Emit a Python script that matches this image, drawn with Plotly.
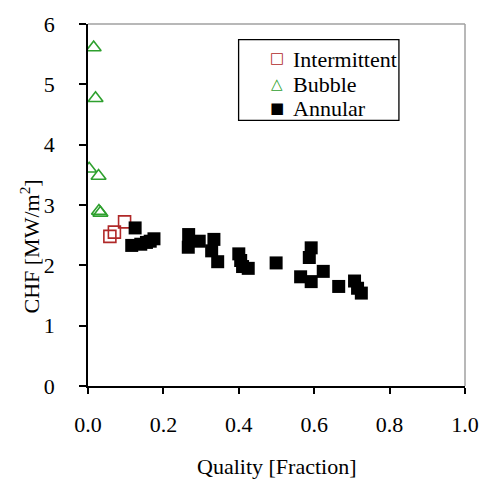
import plotly.graph_objects as go

# Data
inter_x = [0.058, 0.070, 0.097]
inter_y = [2.48, 2.55, 2.72]

bubble_x = [0.015, 0.020, 0.003, 0.028, 0.029, 0.033]
bubble_y = [5.61, 4.77, 3.60, 3.48, 2.90, 2.87]

annular_x = [0.125, 0.116, 0.140, 0.155, 0.175, 0.165,
             0.267, 0.266, 0.295, 0.334, 0.328, 0.344,
             0.400, 0.405, 0.410, 0.425,
             0.499, 0.592, 0.587, 0.564, 0.592, 0.624, 0.665,
             0.707, 0.715, 0.725]
annular_y = [2.62, 2.33, 2.35, 2.38, 2.44, 2.40,
             2.51, 2.30, 2.40, 2.43, 2.24, 2.06,
             2.19, 2.08, 1.98, 1.95,
             2.04, 2.29, 2.13, 1.81, 1.73, 1.90, 1.65,
             1.74, 1.62, 1.54]

x_ticks = [0.0, 0.2, 0.4, 0.6, 0.8, 1.0]
x_ticklabels = ["0.0", "0.2", "0.4", "0.6", "0.8", "1.0"]
y_ticks = [0, 1, 2, 3, 4, 5, 6]

series_names = ["Intermittent", "Bubble", "Annular"]
series_colors = ["#b02828", "#2ea02e", "black"]
legend_glyphs = ["\u25A1", "\u25B3", "\u25A0"]

FONT = "Liberation Serif"

# plot area in pixels (for converting legend placement to paper coords)
L, T, W, H = 88, 14, 388, 372
def px(xp):
    return (xp - L) / W
def py(yp):
    return (T + H - yp) / H

fig = go.Figure()
fig.add_trace(go.Scatter(
    x=inter_x, y=inter_y, mode="markers", name=series_names[0], showlegend=False,
    marker=dict(symbol="square-open", size=12, color=series_colors[0],
                line=dict(width=1.6, color=series_colors[0]))))
fig.add_trace(go.Scatter(
    x=bubble_x, y=bubble_y, mode="markers", name=series_names[1], showlegend=False,
    marker=dict(symbol="triangle-up-open", size=13, color=series_colors[1],
                line=dict(width=1.6, color=series_colors[1]))))
fig.add_trace(go.Scatter(
    x=annular_x, y=annular_y, mode="markers", name=series_names[2], showlegend=False,
    marker=dict(symbol="square", size=13, color=series_colors[2], line=dict(width=0))))

annotations = [
    dict(text="Quality [Fraction]", xref="paper", yref="paper", x=0.5, y=py(469),
         xanchor="center", yanchor="middle", showarrow=False,
         font=dict(family=FONT, size=22)),
    dict(text="CHF [MW/m<sup>2</sup>]", xref="paper", yref="paper", x=px(28), y=py(243),
         xanchor="center", yanchor="middle", textangle=-90, showarrow=False,
         font=dict(family=FONT, size=22)),
]
rows = [50, 76.5, 101]
for name, col, g, r in zip(series_names, series_colors, legend_glyphs, rows):
    annotations.append(dict(text=g, xref="paper", yref="paper", x=px(283), y=py(r - 1),
                            xanchor="center", yanchor="middle", showarrow=False,
                            font=dict(family="DejaVu Sans", size=15, color=col)))
    annotations.append(dict(text=name, xref="paper", yref="paper", x=px(297), y=py(r),
                            xanchor="left", yanchor="middle", showarrow=False,
                            font=dict(family=FONT, size=22, color="black")))

fig.update_layout(
    width=491, height=485,
    margin=dict(l=L, r=491 - L - W, t=T, b=485 - T - H),
    paper_bgcolor="white", plot_bgcolor="white",
    font=dict(family=FONT, size=22, color="black"),
    showlegend=False,
    xaxis=dict(range=[0, 1.0], tickvals=x_ticks, ticktext=x_ticklabels,
               showgrid=False, zeroline=False, showline=True, linecolor="black", linewidth=1.5,
               ticks="outside", ticklen=6, tickcolor="black", tickwidth=1.5,
               ticklabelstandoff=12, tickfont=dict(family=FONT, size=22)),
    yaxis=dict(range=[0, 6], tickvals=y_ticks,
               showgrid=False, zeroline=False, showline=True, linecolor="black", linewidth=1.5,
               ticks="outside", ticklen=7, tickcolor="black", tickwidth=1.5,
               ticklabelstandoff=20, tickfont=dict(family=FONT, size=22)),
    shapes=[
        dict(type="line", xref="paper", yref="paper", x0=0, x1=1, y0=1, y1=1,
             line=dict(color="#a0a0a0", width=1.5)),
        dict(type="line", xref="paper", yref="paper", x0=1, x1=1, y0=0, y1=1,
             line=dict(color="#a0a0a0", width=1.5)),
        dict(type="rect", xref="paper", yref="paper", x0=px(243), x1=px(408),
             y0=py(113), y1=py(30), line=dict(color="black", width=1.3),
             fillcolor="white", layer="below"),
    ],
    annotations=annotations,
)

fig.write_html("out.html")
